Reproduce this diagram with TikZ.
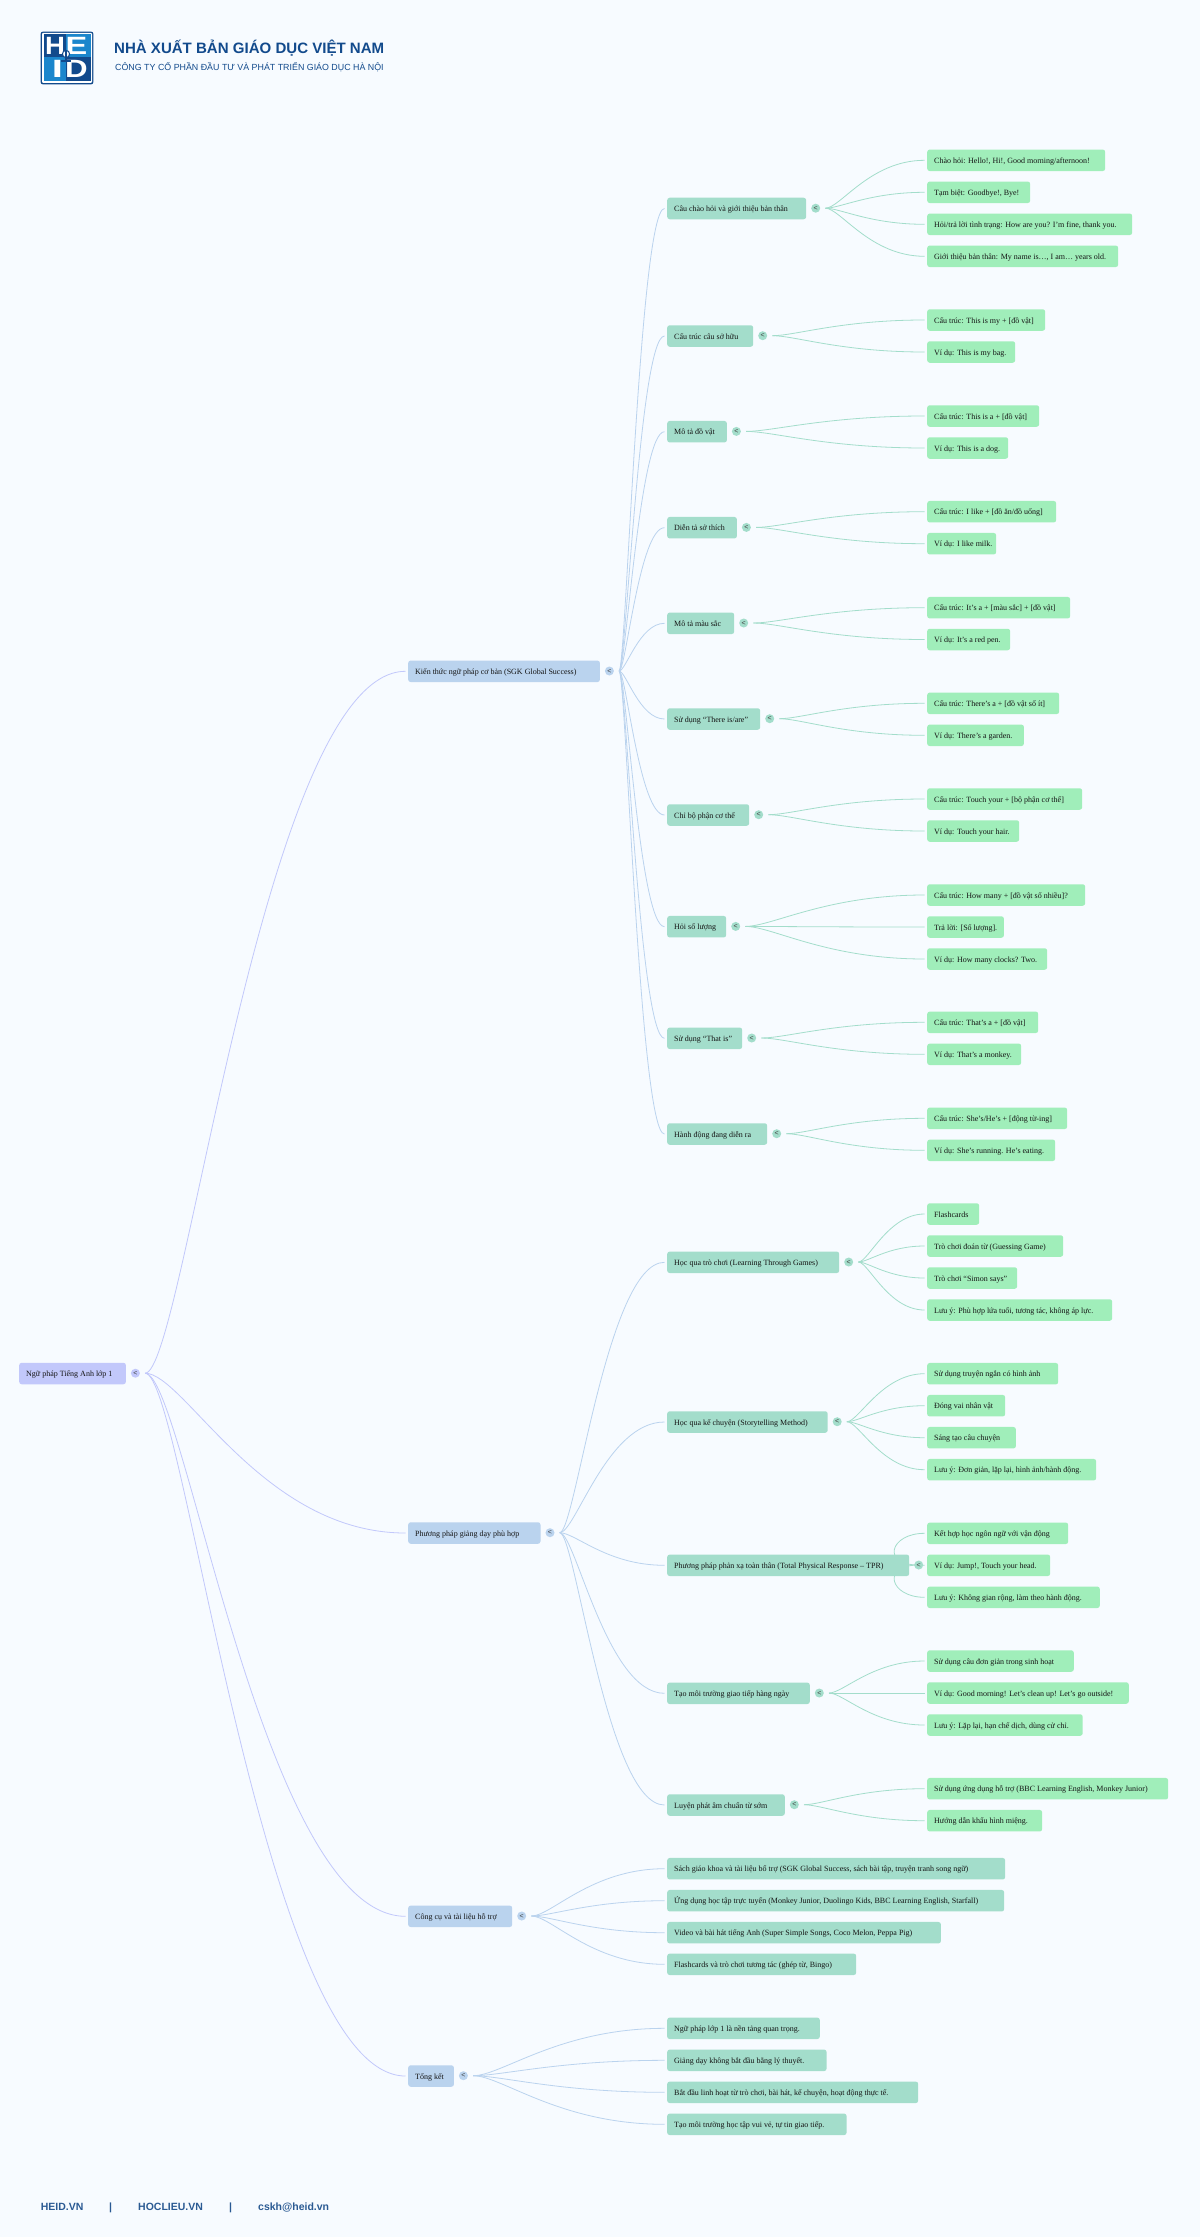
\documentclass[tikz,border=0pt]{standalone}
\usepackage{fontspec}
\setmainfont{Liberation Serif}
\newfontfamily\hdfont{Liberation Sans}
\usetikzlibrary{calc}
\pgfdeclarelayer{bg}
\pgfsetlayers{bg,main}
\definecolor{pagebg}{HTML}{F7FBFF}
\definecolor{rootcol}{HTML}{C2C8FB}
\definecolor{onecol}{HTML}{BAD3EE}
\definecolor{twocol}{HTML}{A3DDCB}
\definecolor{leafcol}{HTML}{A0EEBA}
\definecolor{hdblue}{HTML}{124A8C}
\definecolor{ftblue}{HTML}{2A5A93}
\definecolor{logolight}{HTML}{1B86CC}
\tikzset{
  box/.style={anchor=west,rounded corners=2.5pt,inner xsep=7pt,inner ysep=0pt,minimum height=21.5pt,
    text height=7pt,text depth=1pt,text=black!92,font=\fontsize{8}{10}\selectfont},
  rootbox/.style={box,fill=rootcol},
  onebox/.style={box,fill=onecol},
  twobox/.style={box,fill=twocol},
  leafbox/.style={box,fill=leafcol},
  tog/.style={circle,inner sep=0pt,minimum size=9pt,text=black!75,font=\hdfont\fontsize{7}{7}\selectfont},
  rootlink/.style={draw=rootcol,line width=0.8pt},
  onelink/.style={draw=onecol,line width=0.8pt},
  twolink/.style={draw=twocol,line width=0.8pt},
  title/.style={anchor=base west,inner sep=0pt,text=hdblue},
  foot/.style={anchor=base west,inner sep=0pt,text=ftblue,font=\hdfont\bfseries\fontsize{10.5}{13}\selectfont},
  logoletter/.style={inner sep=0pt,text=white,transform shape,font=\hdfont\bfseries\fontsize{25}{25}\selectfont}
}
% name, style, left, centre y, right, text
\newcommand\nd[6]{\node[#2] (#1) at (#3,#4) {\makebox[\dimexpr #5pt-#3pt-14pt\relax][l]{#6}};}
% same, with a toggle circle beside it
\newcommand\nt[7]{\nd{#1}{#2}{#3}{#4}{#5}{#6}\node[tog,fill=#7] (t#1) at ($(#1.east)+(9.3pt,0.3pt)$) {<};}
\newcommand\lnk[3]{\draw[#3] let \p1=($(t#1.east)+(5pt,0pt)$), \p2=($(#2.west)+(-2.5pt,0pt)$), \n1={\x2-\x1} in (\p1) .. controls ({\x1+0.15*\n1},\y1) and ({\x1+0.45*\n1},\y2) .. (\p2);}
\begin{document}
\begin{tikzpicture}[x=1pt,y=-1pt]
\begin{pgfonlayer}{bg}
\path[use as bounding box,fill=pagebg] (0,0) rectangle (1200,2237);
\end{pgfonlayer}
% header logo
\fill[hdblue,rounded corners=2pt] (40.7,31.7) rectangle (93.3,84.3);
\fill[white,rounded corners=1pt] (42,33) rectangle (92,83);
\fill[hdblue] (43.5,34.5) rectangle (66,57);
\fill[logolight] (66,34.5) rectangle (90.5,57);
\fill[logolight] (43.5,57) rectangle (66,81.5);
\fill[hdblue] (66,57) rectangle (90.5,81.5);
\node[logoletter,xscale=1.1] (lh) at (55,46) {H};
\node[logoletter,xscale=1.3] (le) at (76.5,46) {E};
\node[logoletter,xscale=1.6] (li) at (57.5,69) {I};
\node[logoletter,xscale=1.25] (ld) at (76.5,69) {D};
\draw[hdblue,line width=1pt,fill=white] (66,54) circle (3.6pt);
\fill[hdblue] (64.7,50.5) rectangle (67.3,60);
\fill[hdblue] (61,60) rectangle (71,62);
\node[title,font=\hdfont\bfseries\fontsize{15.05}{18}\selectfont] (ht) at (114,53.8) {NHÀ XUẤT BẢN GIÁO DỤC VIỆT NAM};
\node[title,font=\hdfont\fontsize{8.86}{12}\selectfont] (hs) at (115,71) {CÔNG TY CỔ PHẦN ĐẦU TƯ VÀ PHÁT TRIỂN GIÁO DỤC HÀ NỘI};
% footer
\node[foot] (f1) at (40.7,2210.7) {HEID.VN};
\node[foot] (f2) at (109,2210.7) {|};
\node[foot] (f3) at (138,2210.7) {HOCLIEU.VN};
\node[foot] (f4) at (229,2210.7) {|};
\node[foot] (f5) at (258,2210.7) {cskh@heid.vn};
% root and level one
\nt{r}{rootbox}{19}{1373.5}{125.7}{Ngữ pháp Tiếng Anh lớp 1}{rootcol}
\nt{a}{onebox}{408}{671.3}{599.7}{Kiến thức ngữ pháp cơ bản (SGK Global Success)}{onecol}
\nt{b}{onebox}{408}{1533}{540.3}{Phương pháp giảng dạy phù hợp}{onecol}
\nt{c}{onebox}{408}{1916.3}{512}{Công cụ và tài liệu hỗ trợ}{onecol}
\nt{d}{onebox}{408}{2076}{453.7}{Tổng kết}{onecol}
% branch a
\nt{a1}{twobox}{667}{208.5}{806}{Câu chào hỏi và giới thiệu bản thân}{twocol}
\nd{a1a}{leafbox}{927}{160.3}{1105}{Chào hỏi: Hello!, Hi!, Good morning/afternoon!}
\nd{a1b}{leafbox}{927}{192.3}{1030}{Tạm biệt: Goodbye!, Bye!}
\nd{a1c}{leafbox}{927}{224.3}{1132}{Hỏi/trả lời tình trạng: How are you? I’m fine, thank you.}
\nd{a1d}{leafbox}{927}{256.3}{1118}{Giới thiệu bản thân: My name is…, I am… years old.}
\nt{a2}{twobox}{667}{336}{753}{Cấu trúc câu sở hữu}{twocol}
\nd{a2a}{leafbox}{927}{320}{1045}{Cấu trúc: This is my + [đồ vật]}
\nd{a2b}{leafbox}{927}{352}{1015}{Ví dụ: This is my bag.}
\nt{a3}{twobox}{667}{431.7}{726.7}{Mô tả đồ vật}{twocol}
\nd{a3a}{leafbox}{927}{416}{1039}{Cấu trúc: This is a + [đồ vật]}
\nd{a3b}{leafbox}{927}{448}{1008}{Ví dụ: This is a dog.}
\nt{a4}{twobox}{667}{527.7}{736.7}{Diễn tả sở thích}{twocol}
\nd{a4a}{leafbox}{927}{511.7}{1056}{Cấu trúc: I like + [đồ ăn/đồ uống]}
\nd{a4b}{leafbox}{927}{543.7}{996}{Ví dụ: I like milk.}
\nt{a5}{twobox}{667}{623.3}{734}{Mô tả màu sắc}{twocol}
\nd{a5a}{leafbox}{927}{607.7}{1070}{Cấu trúc: It’s a + [màu sắc] + [đồ vật]}
\nd{a5b}{leafbox}{927}{639.5}{1010}{Ví dụ: It’s a red pen.}
\nt{a6}{twobox}{667}{719}{760}{Sử dụng “There is/are”}{twocol}
\nd{a6a}{leafbox}{927}{703.3}{1059}{Cấu trúc: There’s a + [đồ vật số ít]}
\nd{a6b}{leafbox}{927}{735.3}{1023.7}{Ví dụ: There’s a garden.}
\nt{a7}{twobox}{667}{815}{749}{Chỉ bộ phận cơ thể}{twocol}
\nd{a7a}{leafbox}{927}{799}{1082}{Cấu trúc: Touch your + [bộ phận cơ thể]}
\nd{a7b}{leafbox}{927}{831}{1019}{Ví dụ: Touch your hair.}
\nt{a8}{twobox}{667}{926.7}{726}{Hỏi số lượng}{twocol}
\nd{a8a}{leafbox}{927}{895}{1085}{Cấu trúc: How many + [đồ vật số nhiều]?}
\nd{a8b}{leafbox}{927}{927}{1003.7}{Trả lời: [Số lượng].}
\nd{a8c}{leafbox}{927}{959}{1047}{Ví dụ: How many clocks? Two.}
\nt{a9}{twobox}{667}{1038.3}{742}{Sử dụng “That is”}{twocol}
\nd{a9a}{leafbox}{927}{1022.3}{1038}{Cấu trúc: That’s a + [đồ vật]}
\nd{a9b}{leafbox}{927}{1054.3}{1021}{Ví dụ: That’s a monkey.}
\nt{a10}{twobox}{667}{1134}{767}{Hành động đang diễn ra}{twocol}
\nd{a10a}{leafbox}{927}{1118.3}{1067}{Cấu trúc: She’s/He’s + [động từ-ing]}
\nd{a10b}{leafbox}{927}{1150.3}{1055}{Ví dụ: She’s running. He’s eating.}
% branch b
\nt{b1}{twobox}{667}{1262.3}{839}{Học qua trò chơi (Learning Through Games)}{twocol}
\nd{b1a}{leafbox}{927}{1214}{979}{Flashcards}
\nd{b1b}{leafbox}{927}{1246}{1063}{Trò chơi đoán từ (Guessing Game)}
\nd{b1c}{leafbox}{927}{1278}{1017}{Trò chơi “Simon says”}
\nd{b1d}{leafbox}{927}{1310}{1112}{Lưu ý: Phù hợp lứa tuổi, tương tác, không áp lực.}
\nt{b2}{twobox}{667}{1422}{827.5}{Học qua kể chuyện (Storytelling Method)}{twocol}
\nd{b2a}{leafbox}{927}{1373.7}{1058}{Sử dụng truyện ngắn có hình ảnh}
\nd{b2b}{leafbox}{927}{1405.7}{1005}{Đóng vai nhân vật}
\nd{b2c}{leafbox}{927}{1437.7}{1015.7}{Sáng tạo câu chuyện}
\nd{b2d}{leafbox}{927}{1469.7}{1096}{Lưu ý: Đơn giản, lặp lại, hình ảnh/hành động.}
\nt{b3}{twobox}{667}{1565.3}{909}{Phương pháp phản xạ toàn thân (Total Physical Response – TPR)}{twocol}
\nd{b3a}{leafbox}{927}{1533.3}{1068}{Kết hợp học ngôn ngữ với vận động}
\nd{b3b}{leafbox}{927}{1565.3}{1050}{Ví dụ: Jump!, Touch your head.}
\nd{b3c}{leafbox}{927}{1597.3}{1099.6}{Lưu ý: Không gian rộng, làm theo hành động.}
\nt{b4}{twobox}{667}{1693.3}{809.6}{Tạo môi trường giao tiếp hàng ngày}{twocol}
\nd{b4a}{leafbox}{927}{1661}{1073.6}{Sử dụng câu đơn giản trong sinh hoạt}
\nd{b4b}{leafbox}{927}{1693}{1128.6}{Ví dụ: Good morning! Let’s clean up! Let’s go outside!}
\nd{b4c}{leafbox}{927}{1725}{1082.5}{Lưu ý: Lặp lại, hạn chế dịch, dùng cử chỉ.}
\nt{b5}{twobox}{667}{1805}{784.6}{Luyện phát âm chuẩn từ sớm}{twocol}
\nd{b5a}{leafbox}{927}{1788.7}{1168}{Sử dụng ứng dụng hỗ trợ (BBC Learning English, Monkey Junior)}
\nd{b5b}{leafbox}{927}{1820.7}{1042}{Hướng dẫn khẩu hình miệng.}
% branch c
\nd{c1}{twobox}{667}{1868.7}{1005}{Sách giáo khoa và tài liệu bổ trợ (SGK Global Success, sách bài tập, truyện tranh song ngữ)}
\nd{c2}{twobox}{667}{1900.7}{1004}{Ứng dụng học tập trực tuyến (Monkey Junior, Duolingo Kids, BBC Learning English, Starfall)}
\nd{c3}{twobox}{667}{1932.7}{940.7}{Video và bài hát tiếng Anh (Super Simple Songs, Coco Melon, Peppa Pig)}
\nd{c4}{twobox}{667}{1964.3}{856}{Flashcards và trò chơi tương tác (ghép từ, Bingo)}
% branch d
\nd{d1}{twobox}{667}{2028.3}{819.6}{Ngữ pháp lớp 1 là nền tảng quan trọng.}
\nd{d2}{twobox}{667}{2060.3}{826.4}{Giảng dạy không bắt đầu bằng lý thuyết.}
\nd{d3}{twobox}{667}{2092.3}{918}{Bắt đầu linh hoạt từ trò chơi, bài hát, kể chuyện, hoạt động thực tế.}
\nd{d4}{twobox}{667}{2124.3}{846.4}{Tạo môi trường học tập vui vẻ, tự tin giao tiếp.}
% connectors
\begin{pgfonlayer}{bg}
\foreach \k in {a,b,c,d}{\lnk{r}{\k}{rootlink}}
\foreach \k in {a1,a2,a3,a4,a5,a6,a7,a8,a9,a10}{\lnk{a}{\k}{onelink}}
\foreach \k in {b1,b2,b3,b4,b5}{\lnk{b}{\k}{onelink}}
\foreach \k in {c1,c2,c3,c4}{\lnk{c}{\k}{onelink}}
\foreach \k in {d1,d2,d3,d4}{\lnk{d}{\k}{onelink}}
\foreach \k in {a,b,c,d}{\lnk{a1}{a1\k}{twolink}}
\foreach \pp/\k in {a2/a,a2/b,a3/a,a3/b,a4/a,a4/b,a5/a,a5/b,a6/a,a6/b,a7/a,a7/b,a8/a,a8/b,a8/c,a9/a,a9/b,a10/a,a10/b}{\lnk{\pp}{\pp\k}{twolink}}
\foreach \pp/\k in {b1/a,b1/b,b1/c,b1/d,b2/a,b2/b,b2/c,b2/d,b4/a,b4/b,b4/c,b5/a,b5/b}{\lnk{\pp}{\pp\k}{twolink}}
\draw[twolink] (tb3.center) .. controls +(-38pt,0pt) and ([xshift=-37pt]b3a.west) .. ([xshift=-2.5pt]b3a.west);
\draw[twolink] (tb3.center) -- ([xshift=-2.5pt]b3b.west);
\draw[twolink] (tb3.center) .. controls +(-38pt,0pt) and ([xshift=-37pt]b3c.west) .. ([xshift=-2.5pt]b3c.west);
\end{pgfonlayer}
\end{tikzpicture}
\end{document}
